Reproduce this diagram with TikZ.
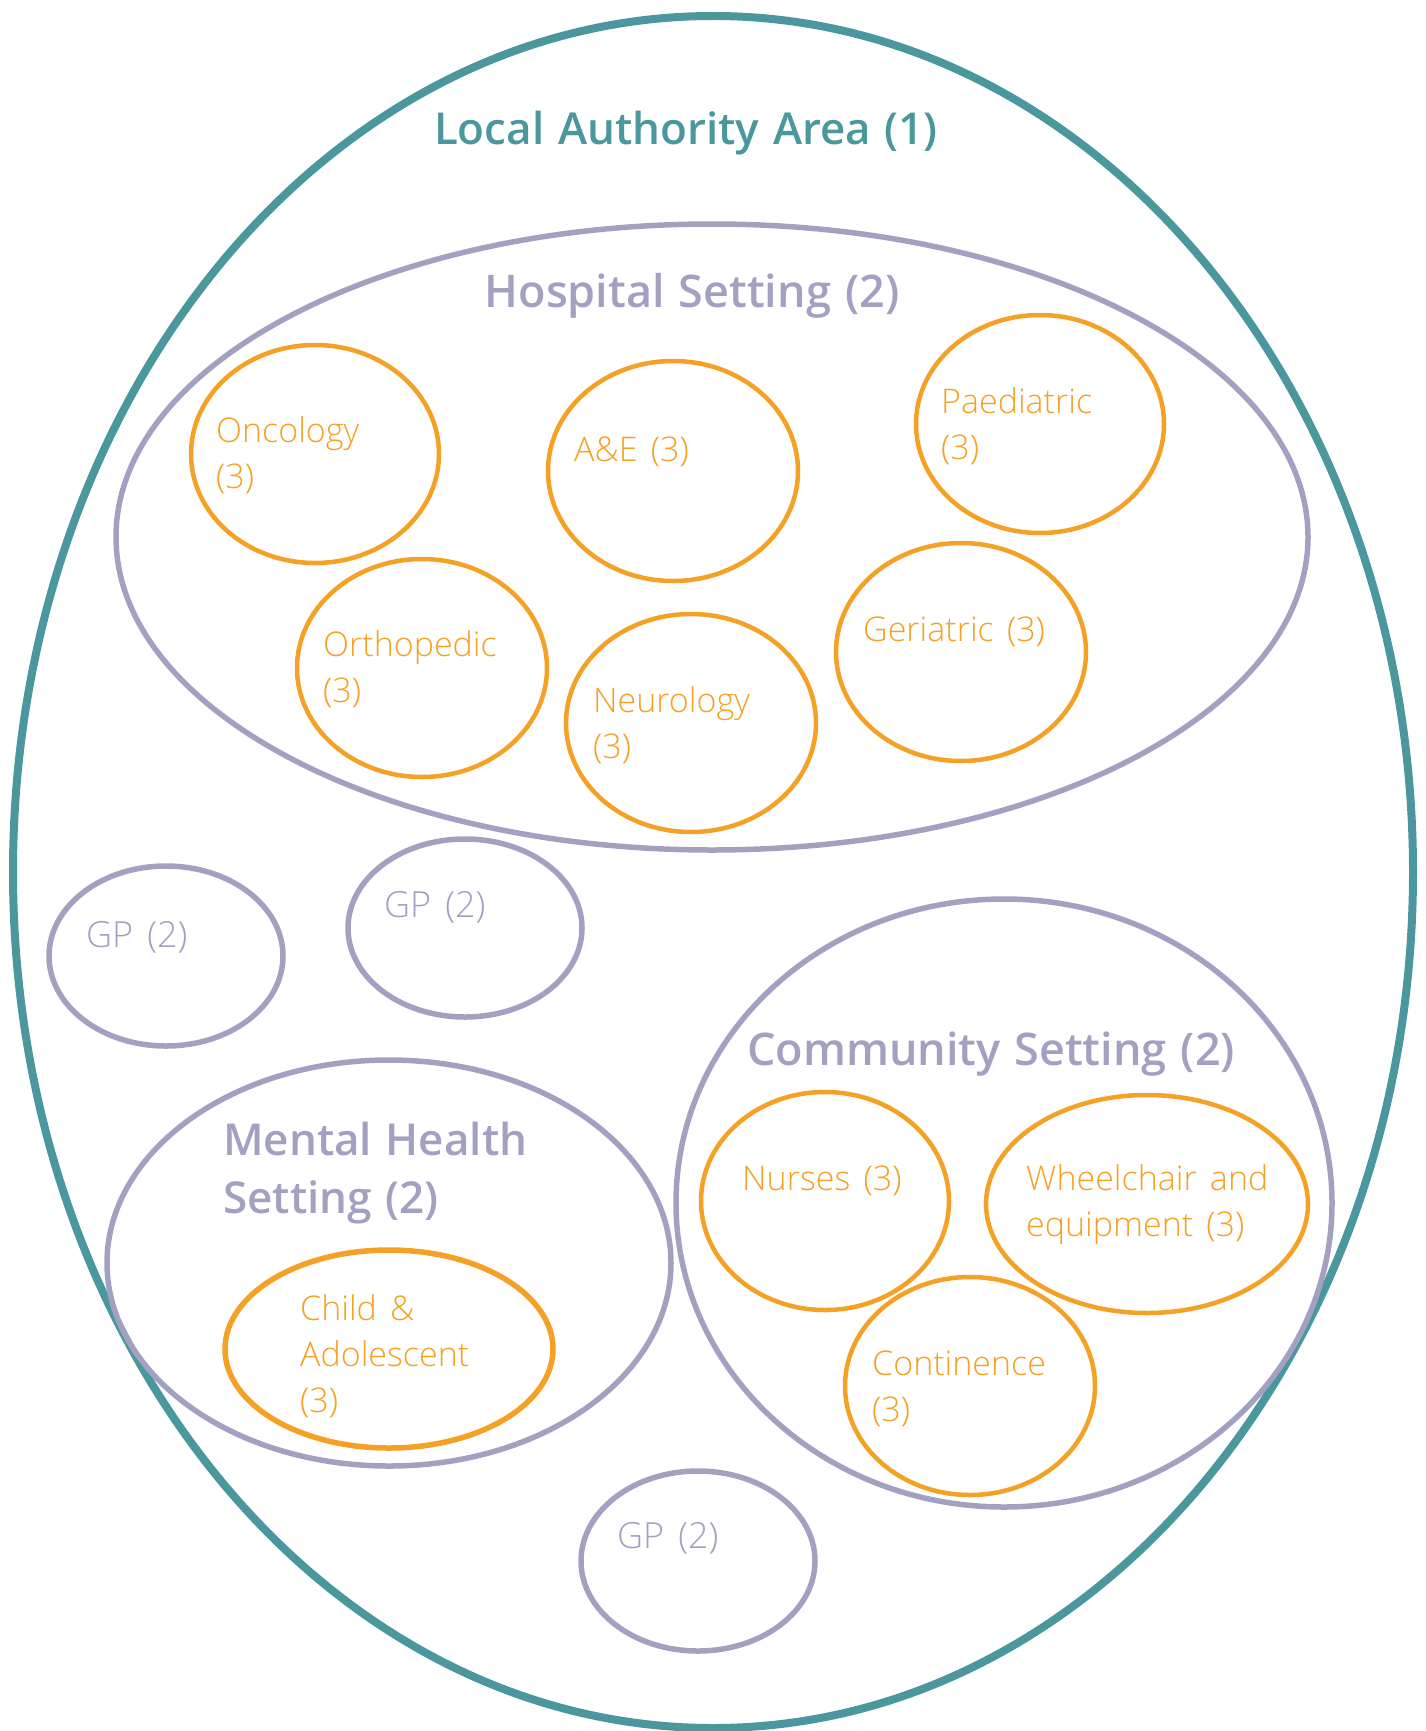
\documentclass[tikz,border=0pt]{standalone}
\usepackage{fontspec}
\setmainfont{Open Sans}
\newfontfamily\lightf[WordSpace=1.5]{Open Sans Light}
\newfontfamily\semif[WordSpace=1.2]{Open Sans Semibold}
\definecolor{teal1}{HTML}{4A979E}
\definecolor{lav}{HTML}{A3A1C2}
\definecolor{orng}{HTML}{F4A125}
\tikzset{
  outerring/.style={draw=teal1,line width=8pt},
  setring/.style={draw=lav,line width=5.5pt},
  unitring/.style={draw=orng,line width=4.5pt},
  titleA/.style={text=teal1,font=\semif\fontsize{44}{52}\selectfont},
  titleB/.style={text=lav,font=\semif\fontsize{45}{58}\selectfont,align=left},
  unittext/.style={text=orng,font=\lightf\fontsize{34}{46}\selectfont,align=left,anchor=west,inner sep=0pt},
  gptext/.style={text=lav,font=\lightf\fontsize{36}{46}\selectfont,anchor=west,inner sep=0pt}
}
\begin{document}
\begin{tikzpicture}[x=1pt,y=-1pt]
\useasboundingbox (0,0) rectangle (1426,1731);
% outer
\draw[outerring] (713,872) ellipse [x radius=700,y radius=856];
\node[titleA] (la) at (686,133) {Local Authority Area (1)};
% settings
\draw[setring] (712,537) ellipse [x radius=596,y radius=313];
\node[titleB] (hs) at (692,296) {Hospital Setting (2)};
\draw[setring] (1004,1203) ellipse [x radius=328,y radius=304];
\node[titleB] (cs) at (991,1054) {Community Setting (2)};
\draw[setring] (389,1263) ellipse [x radius=282,y radius=203];
\node[titleB,anchor=west,inner sep=0pt,font=\semif\fontsize{44}{58}\selectfont] (mh) at (223,1173) {Mental Health\\Setting (2)};
% GPs
\draw[setring] (166,956) ellipse [x radius=117,y radius=90];
\node[gptext] (gp1) at (86,937) {GP (2)};
\draw[setring] (465,928) ellipse [x radius=117,y radius=89];
\node[gptext] (gp2) at (384,907) {GP (2)};
\draw[setring] (698,1561) ellipse [x radius=117,y radius=90];
\node[gptext] (gp3) at (617,1538) {GP (2)};
% hospital units
\draw[unitring] (315,454) ellipse [x radius=124,y radius=109];
\node[unittext] (onc) at (216,455) {Oncology\\(3)};
\draw[unitring] (673,471) ellipse [x radius=125,y radius=110];
\node[unittext] (ae) at (574,452) {A\&E (3)};
\draw[unitring] (1040,424) ellipse [x radius=124,y radius=109];
\node[unittext] (pae) at (941,426) {Paediatric\\(3)};
\draw[unitring] (422,668) ellipse [x radius=125,y radius=109];
\node[unittext] (ort) at (323,669) {Orthopedic\\(3)};
\draw[unitring] (691,723) ellipse [x radius=125,y radius=109];
\node[unittext] (neu) at (593,725) {Neurology\\(3)};
\draw[unitring] (961,652) ellipse [x radius=125,y radius=109];
\node[unittext] (ger) at (863,632) {Geriatric (3)};
% community units
\draw[unitring] (825,1201) ellipse [x radius=124,y radius=109];
\node[unittext] (nur) at (742,1181) {Nurses (3)};
\draw[unitring] (1147,1204) ellipse [x radius=161,y radius=109];
\node[unittext] (whe) at (1026,1205) {Wheelchair and\\equipment (3)};
\draw[unitring] (970,1386) ellipse [x radius=125,y radius=109];
\node[unittext] (con) at (872,1389) {Continence\\(3)};
% mental health unit
\draw[unitring,line width=5.5pt] (389,1349) ellipse [x radius=164,y radius=99];
\node[unittext] (cha) at (300,1356) {Child \&\\Adolescent\\(3)};
\end{tikzpicture}
\end{document}
